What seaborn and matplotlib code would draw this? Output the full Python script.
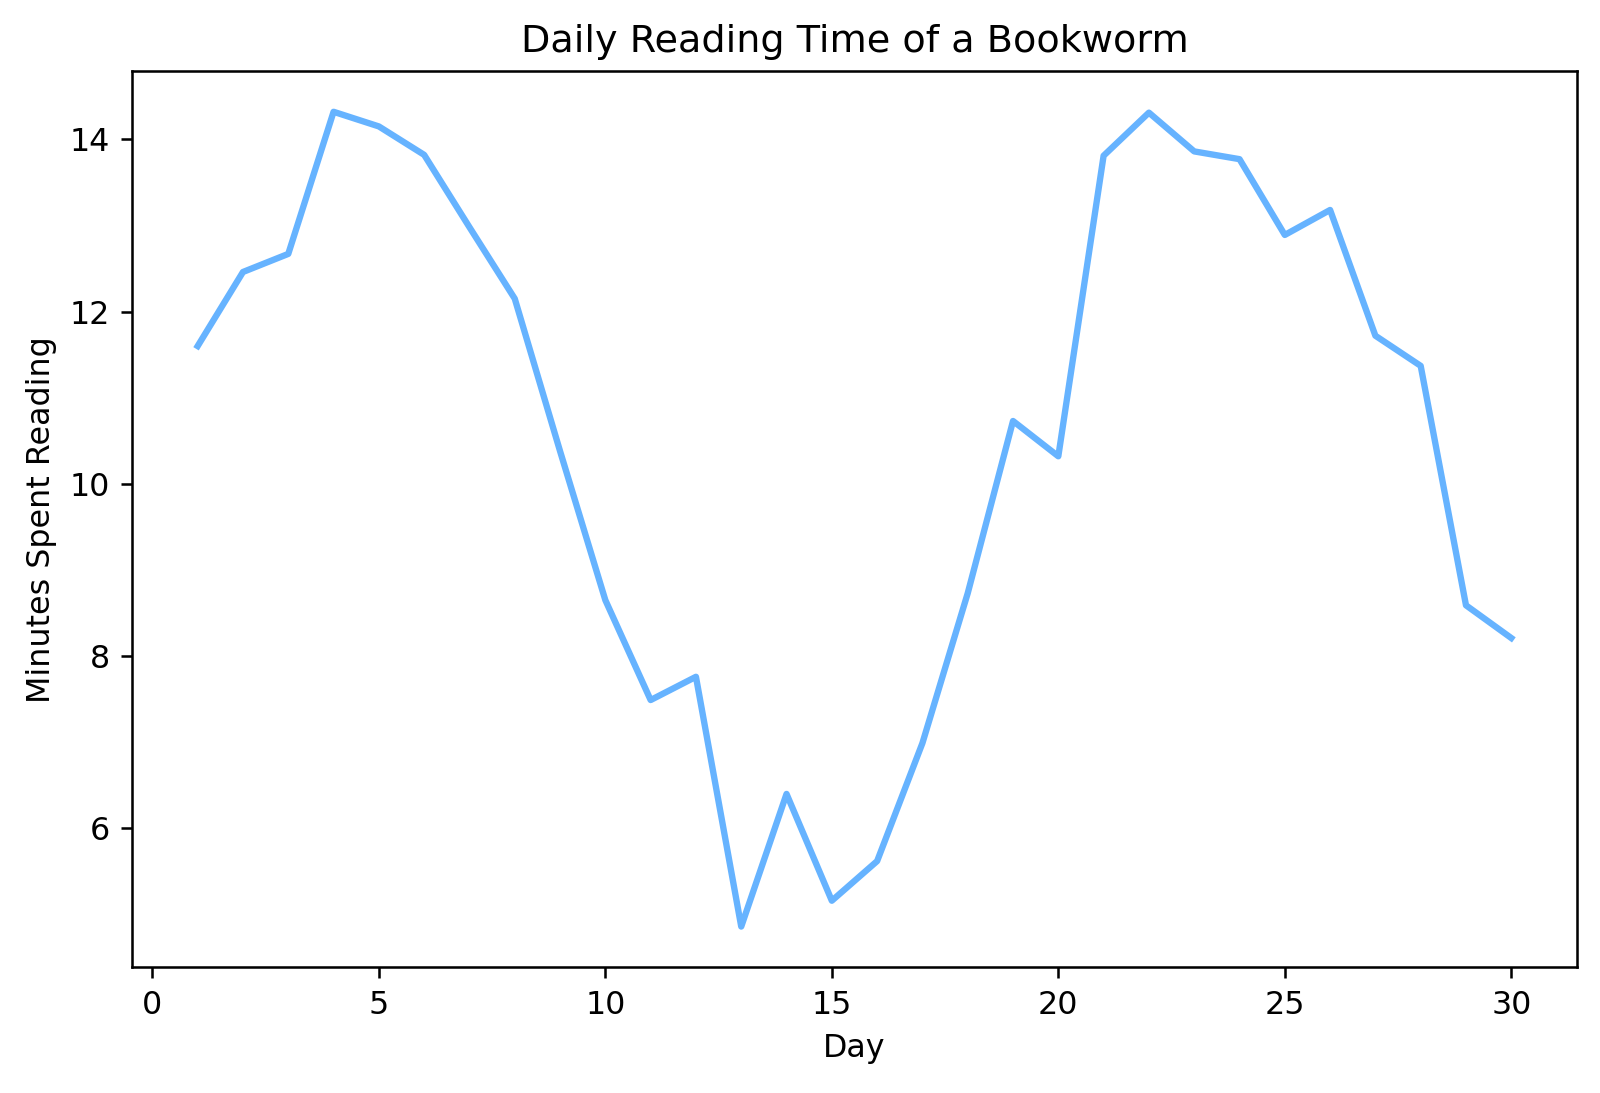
import matplotlib

matplotlib.use("Agg")
import matplotlib.pyplot as plt
import pandas as pd
import seaborn as sns

days = list(range(1, 31))
minutes = [
    11.60, 12.46, 12.67, 14.32, 14.15, 13.82, 12.98, 12.15, 10.38, 8.65,
    7.49, 7.76, 4.86, 6.40, 5.16, 5.62, 6.99, 8.73, 10.73, 10.32,
    13.81, 14.31, 13.86, 13.77, 12.89, 13.18, 11.72, 11.37, 8.59, 8.21,
]

df = pd.DataFrame({"Day": days, "Minutes": minutes})

DPI = 1600 / 7
fig, ax = plt.subplots(figsize=(7, 1093 / DPI), dpi=DPI)
sns.lineplot(data=df, x="Day", y="Minutes", color="#66b3ff", linewidth=2, ax=ax)
ax.set_title("Daily Reading Time of a Bookworm")
ax.set_xlabel("Day")
ax.set_ylabel("Minutes Spent Reading")
ax.set_xticks([0, 5, 10, 15, 20, 25, 30])
fig.subplots_adjust(left=0.0825, right=0.9856, top=0.935, bottom=0.115)
plt.savefig("out.png", dpi=DPI)
